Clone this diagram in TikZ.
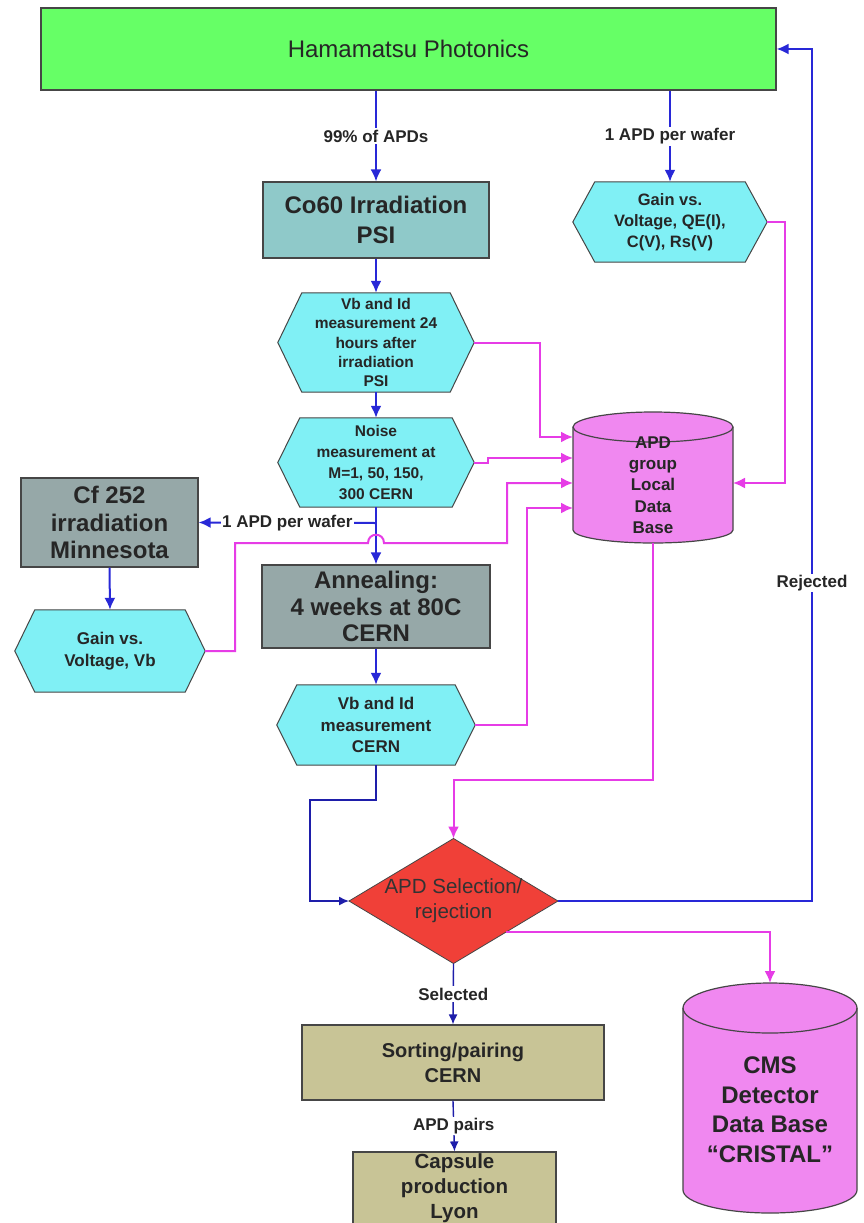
\documentclass[tikz,border=0pt]{standalone}
\usepackage{fontspec}
\setmainfont{Liberation Sans}
\usetikzlibrary{arrows.meta,calc,backgrounds}
\definecolor{hamgreen}{RGB}{102,255,102}
\definecolor{cocol}{RGB}{143,201,201}
\definecolor{graycol}{RGB}{150,168,168}
\definecolor{hexcol}{RGB}{128,240,245}
\definecolor{pinkcol}{RGB}{240,136,240}
\definecolor{redcol}{RGB}{240,64,56}
\definecolor{khaki}{RGB}{200,196,150}
\definecolor{blueline}{RGB}{40,40,215}
\definecolor{navyline}{RGB}{30,30,170}
\definecolor{magline}{RGB}{230,60,230}
\definecolor{edgecol}{RGB}{70,70,70}
\newcommand{\fs}[2]{\fontsize{#1}{#2}\selectfont}
\newcommand{\hexa}[2]{\path[hexbg] (#1.west) -- ([xshift=#2pt]#1.north west) -- ([xshift=-#2pt]#1.north east) -- (#1.east) -- ([xshift=-#2pt]#1.south east) -- ([xshift=#2pt]#1.south west) -- cycle;}
\begin{document}
\begin{tikzpicture}[x=1pt,y=-1pt,
  bl/.style={draw=blueline, line width=2pt, -{Latex[length=12pt,width=11pt]}},
  blthin/.style={draw=navyline, line width=1.4pt, -{Latex[length=10pt,width=9pt]}},
  mg/.style={draw=magline, line width=2pt, -{Latex[length=12pt,width=11pt]}},
  procbox/.style={draw=edgecol, line width=1.2pt, align=center, inner sep=0pt, text=black!85},
  bbox/.style={inner sep=0pt, outer sep=0pt},
  hexbg/.style={fill=hexcol, draw=edgecol, line width=1pt},
  cylbg/.style={fill=pinkcol, draw=edgecol, line width=1.2pt},
  lab/.style={fill=white, inner sep=1.5pt, font=\bfseries\fs{17}{20}, text=black!85},
  hextext/.style={align=center, inner sep=0pt, text=black!85}]
\useasboundingbox (0,0) rectangle (863,1223);
\begin{scope}[on background layer]
  \fill[white] (0,0) rectangle (863,1223);
\end{scope}

% nodes
\node[procbox, fill=hamgreen, minimum width=735pt, minimum height=82pt, font=\fs{24}{28}] (ham) at (408.5,49) {Hamamatsu Photonics};
\node[procbox, fill=cocol, minimum width=226pt, minimum height=76pt, font=\bfseries\fs{24}{30}] (co60) at (376,220) {Co60 Irradiation\\PSI};
\node[hextext, minimum width=194pt, minimum height=80pt, font=\bfseries\fs{16.5}{21}] (h0) at (670,222) {Gain vs.\\Voltage, QE(I),\\C(V), Rs(V)};
\node[hextext, minimum width=196pt, minimum height=99pt, font=\bfseries\fs{15.5}{19.3}] (h1) at (376,342.5) {Vb and Id\\measurement 24\\hours after\\irradiation\\PSI};
\node[hextext, minimum width=196pt, minimum height=89pt, font=\bfseries\fs{15.5}{21}] (h2) at (376,462.5) {Noise\\measurement at\\M=1, 50, 150,\\300 CERN};
\node[procbox, fill=graycol, minimum width=177pt, minimum height=89pt, font=\bfseries\fs{24}{27.5}] (cf) at (109.5,522.5) {Cf 252\\irradiation\\Minnesota};
\node[hextext, minimum width=190pt, minimum height=82pt, font=\bfseries\fs{17}{22}] (h3) at (110,651) {Gain vs.\\Voltage, Vb};
\node[procbox, fill=graycol, minimum width=228pt, minimum height=83pt, font=\bfseries\fs{24}{26.5}] (anneal) at (376,606.5) {Annealing:\\4 weeks at 80C\\CERN};
\node[hextext, minimum width=198pt, minimum height=80pt, font=\bfseries\fs{17}{21.5}] (h4) at (376,725) {Vb and Id\\measurement\\CERN};
\node[bbox, minimum width=160pt, minimum height=130pt] (db1) at (653,478) {};
\node[hextext, font=\bfseries\fs{17}{21.25}] (db1t) at (653,485) {APD\\group\\Local\\Data\\Base};
\node[bbox, align=center, minimum width=209pt, minimum height=125pt, font=\fs{20.5}{25}, text=black!80] (dia) at (453.5,901) {APD Selection/\\rejection};
\node[procbox, fill=khaki, minimum width=302pt, minimum height=75pt, font=\bfseries\fs{20}{25}] (sort) at (453,1062.5) {Sorting/pairing\\CERN};
\node[procbox, fill=khaki, minimum width=203pt, minimum height=72pt, font=\bfseries\fs{20.5}{25}] (cap) at (454.5,1188) {Capsule\\production\\Lyon};
\node[bbox, minimum width=174pt, minimum height=230pt] (cms) at (770,1098) {};
\node[hextext, font=\bfseries\fs{24}{29.5}] (cmst) at (770,1109.5) {CMS\\Detector\\Data Base\\“CRISTAL”};

% shapes behind the texts
\begin{scope}[on background layer]
  \hexa{h0}{22}
  \hexa{h1}{24}
  \hexa{h2}{22}
  \hexa{h3}{20}
  \hexa{h4}{20}
  \path[fill=redcol, draw=edgecol, line width=0.8pt] (dia.west) -- (dia.north) -- (dia.east) -- (dia.south) -- cycle;
  % APD group local data base cylinder
  \path[cylbg] (573,427) -- (573,530) .. controls (573,537.2) and (608.8,543) .. (653,543) .. controls (697.2,543) and (733,537.2) .. (733,530) -- (733,427) .. controls (733,418.7) and (697.2,412) .. (653,412) .. controls (608.8,412) and (573,418.7) .. (573,427) -- cycle;
  \draw[edgecol, line width=1.2pt] (573,427) .. controls (573,435.3) and (608.8,442) .. (653,442) .. controls (697.2,442) and (733,435.3) .. (733,427);
  % CMS cylinder
  \path[cylbg] (683,1008) -- (683,1190) .. controls (683,1202.7) and (721.95,1213) .. (770,1213) .. controls (818.05,1213) and (857,1202.7) .. (857,1190) -- (857,1008) .. controls (857,994.2) and (818.05,983) .. (770,983) .. controls (721.95,983) and (683,994.2) .. (683,1008) -- cycle;
  \draw[edgecol, line width=1.2pt] (683,1008) .. controls (683,1021.8) and (721.95,1033) .. (770,1033) .. controls (818.05,1033) and (857,1021.8) .. (857,1008);
\end{scope}

% blue connectors
\draw[bl] (ham.south -| co60.north) -- node[lab]{99\% of APDs} (co60.north);
\draw[bl] (ham.south -| h0.north) -- node[lab]{1 APD per wafer} (h0.north);
\draw[bl] (co60.south) -- (h1.north);
\draw[bl] (h1.south) -- (h2.north);
\draw[bl] (h2.south) -- (anneal.north);
\coordinate (br) at (376,523);
\draw[bl] (br) -- node[lab, pos=0.5]{1 APD per wafer} (cf.east);
\draw[bl] (cf.south) -- (h3.north);
\draw[bl] (anneal.south) -- (h4.north);
\draw[blthin] (h4.south) |- (310,800) |- (dia.west);
\draw[bl] (dia.east) -| (812,49) -- (ham.east);
\node[lab] (rej) at (812,583) {Rejected};
\draw[blthin] (dia.south) -- node[lab]{Selected} (sort.north);
\draw[blthin] (sort.south) -- node[lab]{APD pairs} (cap.north);

% magenta connectors
\draw[mg] (h0.east) -| (785,483) -- ($(db1.east)+(0,5)$);
\draw[mg] (h1.east) -| (540,437) -- ($(db1.west)+(0,-41)$);
\draw[mg] (h2.east) -- (488,462.5) -- (488,458) -- ($(db1.west)+(0,-20)$);
\draw[mg] (h3.east) -| (235,543) -- (368,543) .. controls (368,532) and (384,532) .. (384,543) -| (507,483) -- ($(db1.west)+(0,5)$);
\draw[mg] (h4.east) -| (527,508) -- ($(db1.west)+(0,30)$);
\draw[mg] (db1.south) |- (453.5,780) -- (dia.north);
\draw[mg] ($(dia.east)!0.5!(dia.south)$) -| (cms.north);
\end{tikzpicture}
\end{document}
